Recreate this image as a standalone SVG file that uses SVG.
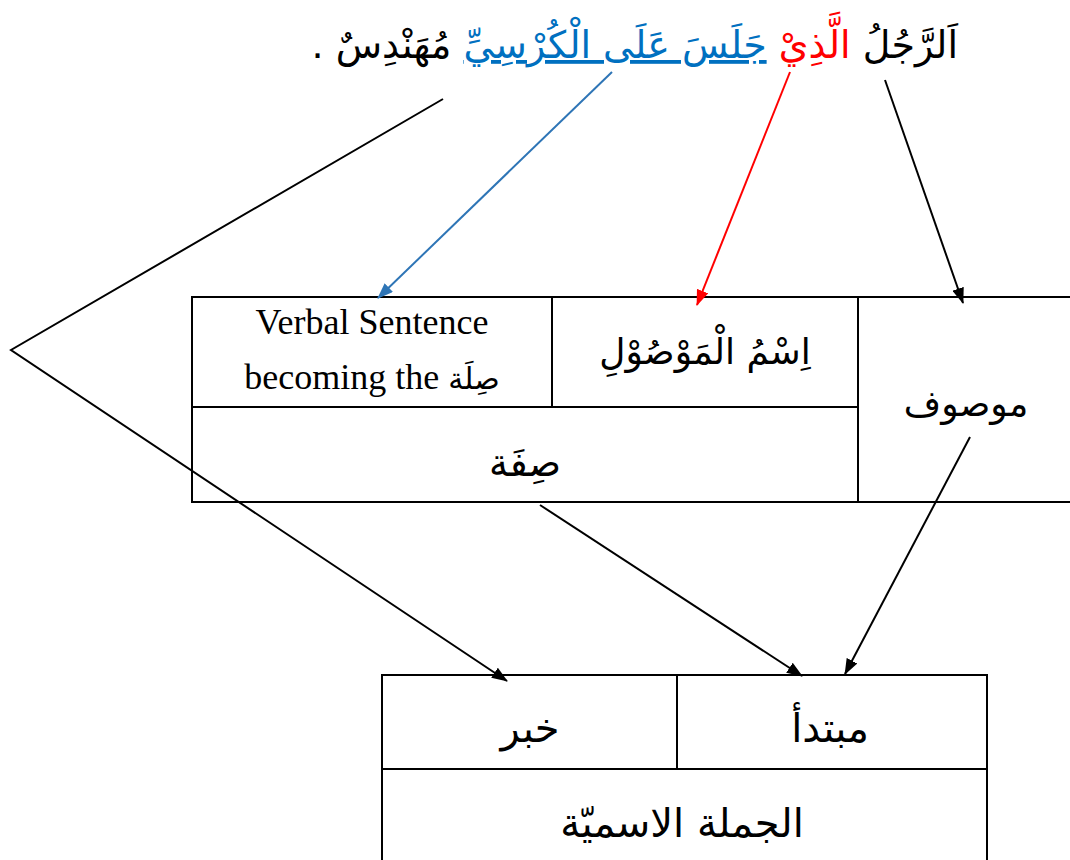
<svg xmlns="http://www.w3.org/2000/svg" width="1070" height="860" viewBox="0 0 1070 860">
<defs>
<style>
.box{fill:none;stroke:#000;stroke-width:2}
.ln{stroke:#000;stroke-width:2}
.ar{font-family:"DejaVu Sans",sans-serif;font-size:36px;fill:#000}
.en{font-family:"Liberation Serif","DejaVu Sans",serif;font-size:36px;fill:#000}
.con{fill:none;stroke-width:2}
</style>
<marker id="mk" viewBox="0 0 16 12" refX="15" refY="6" markerWidth="16" markerHeight="12" orient="auto" markerUnits="userSpaceOnUse">
<path d="M0,0 L16,6 L0,12 z" fill="#000"/>
</marker>
<marker id="mb" viewBox="0 0 16 12" refX="15" refY="6" markerWidth="16" markerHeight="12" orient="auto" markerUnits="userSpaceOnUse">
<path d="M0,0 L16,6 L0,12 z" fill="#2E75B6"/>
</marker>
<marker id="mr" viewBox="0 0 16 12" refX="15" refY="6" markerWidth="16" markerHeight="12" orient="auto" markerUnits="userSpaceOnUse">
<path d="M0,0 L16,6 L0,12 z" fill="#FF0000"/>
</marker>
</defs>
<rect width="1070" height="860" fill="#fff"/>

<g id="sentence">
<text x="958" y="58" direction="rtl" text-anchor="start" class="ar" style="font-size:38px"><tspan fill="#000">اَلرَّجُلُ </tspan><tspan fill="#FF0000">الَّذِيْ</tspan> <tspan fill="#0070C0" text-decoration="underline">جَلَسَ عَلَى الْكُرْسِيِّ</tspan><tspan fill="#000"> مُهَنْدِسٌ .</tspan></text>
</g>

<g id="top-table">
<path class="box" d="M1071,297 H192 V502 H1071"/>
<line class="ln" x1="552" y1="297" x2="552" y2="407"/>
<line class="ln" x1="858" y1="297" x2="858" y2="502"/>
<line class="ln" x1="192" y1="407" x2="858" y2="407"/>
</g>
<g id="node-verbal">
<text x="372" y="334" text-anchor="middle" class="en">Verbal Sentence</text>
<text x="372" y="389" text-anchor="middle" class="en">becoming the <tspan font-family="DejaVu Sans" font-size="30">صِلَة</tspan></text>
</g>
<g id="node-ism">
<text x="705" y="364" text-anchor="middle" class="ar">اِسْمُ الْمَوْصُوْلِ</text>
</g>
<g id="node-sifa">
<text x="525" y="476" text-anchor="middle" class="ar" style="font-size:38px">صِفَة</text>
</g>
<g id="node-mawsuf">
<text x="966" y="416" text-anchor="middle" class="ar">موصوف</text>
</g>

<g id="bottom-table">
<rect class="box" x="382" y="675" width="605" height="190"/>
<line class="ln" x1="677" y1="675" x2="677" y2="769"/>
<line class="ln" x1="382" y1="769" x2="987" y2="769"/>
</g>
<g id="node-khabar">
<text x="530" y="742" text-anchor="middle" class="ar" style="font-size:40px">خبر</text>
</g>
<g id="node-mubtada">
<text x="830" y="742" text-anchor="middle" class="ar" style="font-size:40px">مبتدأ</text>
</g>
<g id="node-jumla">
<text x="682" y="837" text-anchor="middle" class="ar" style="font-size:40px">الجملة الاسميّة</text>
</g>

<g id="connectors">
<line class="con" stroke="#000" x1="885" y1="80" x2="963" y2="303" marker-end="url(#mk)"/>
<line class="con" stroke="#FF0000" x1="790" y1="72" x2="697" y2="305" marker-end="url(#mr)"/>
<line class="con" stroke="#2E75B6" x1="612" y1="72" x2="378" y2="298" marker-end="url(#mb)"/>
<polyline class="con" stroke="#000" points="443,99 11,350 507,681" marker-end="url(#mk)"/>
<line class="con" stroke="#000" x1="540" y1="505" x2="802" y2="676" marker-end="url(#mk)"/>
<line class="con" stroke="#000" x1="970" y1="437" x2="845" y2="674" marker-end="url(#mk)"/>
</g>
</svg>
